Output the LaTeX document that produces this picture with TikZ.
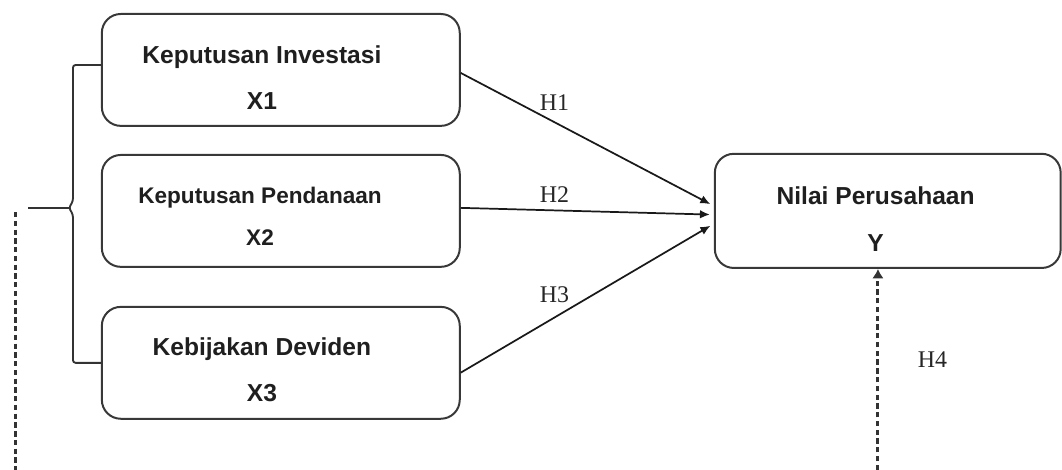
\documentclass[tikz,border=0pt]{standalone}
\usepackage{fontspec}
\setmainfont{Liberation Serif}
\newfontfamily\boxfont{Liberation Sans}
\usepackage{xcolor}
\usepackage{tikz}
\usetikzlibrary{arrows.meta, positioning}

\begin{document}
\begin{tikzpicture}[node distance=3.73cm, on grid, >={Latex[length=7.5pt,width=6.5pt]},
        varbox/.style={draw=black!78, line width=1.5pt, rounded corners=0.5cm,
                       minimum width=9.47cm, minimum height=2.96cm},
        vartext/.style={font=\boxfont\bfseries\fontsize{18.5}{22}\selectfont,
                        text=black!88, align=center},
        hyp/.style={font=\fontsize{18}{20}\selectfont, text=black!85},
        hyparrow/.style={->, shorten >=3pt, line width=1.3pt, draw=black!90},
        dashline/.style={line width=2.2pt, draw=black!80, dash pattern=on 4pt off 2.6pt}]
        \useasboundingbox (0,0) rectangle (28.1,-12.435);

        \node[varbox, label={[vartext, xshift=-0.5cm, yshift=-0.21cm]center:{Keputusan Investasi\\[12.5pt]X1}}] (x1) at (7.43,-1.85) {};
        \node[varbox, label={[vartext, font=\boxfont\bfseries\fontsize{17}{20}\selectfont, xshift=-0.55cm, yshift=-0.15cm]center:{Keputusan Pendanaan\\[12pt]X2}}] (x2) [below=of x1] {};
        \node[varbox, label={[vartext, xshift=-0.5cm, yshift=-0.19cm]center:{Kebijakan Deviden\\[12.5pt]X3}}] (x3) [below=4.02 of x2] {};
        \node[varbox, minimum width=9.15cm, minimum height=3.02cm,
              label={[vartext, xshift=-0.32cm, yshift=-0.22cm]center:{Nilai Perusahaan\\[13pt]Y}}] (y) [right=16.06 of x2] {};

        % bracket on the left
        \coordinate (brk) at (1.93,-5.50);
        \coordinate (mod) at (0.74,-5.50);
        \draw[line width=1.4pt, draw=black!80, rounded corners=2pt]
            ([yshift=0.13cm]x1.west) -| ([yshift=5pt]brk) -- ([xshift=-3pt]brk) -- ([yshift=-5pt]brk) |- (x3.west);
        \draw[line width=1.4pt, draw=black!80] ([xshift=-3pt]brk) -- (mod);

        \path
        ([yshift=-0.08cm]x1.east) edge[hyparrow] node[hyp, above=5pt, pos=.37] {H1} ([yshift=0.13cm]y.west)
        ([yshift=0.08cm]x2.east) edge[hyparrow] node[hyp, above=2.3pt, pos=.37] {H2} ([yshift=-0.1cm]y.west)
        ([yshift=-0.26cm]x3.east) edge[hyparrow] node[hyp, above=7.5pt, pos=.37] {H3} ([yshift=-0.34cm]y.west);

        % dashed lines
        \coordinate (dtop) at (0.40,-5.61);
        \coordinate (dbot) at (0.40,-12.435);
        \draw[dashline] (dtop) -- (dbot);

        \coordinate (h4src) at (23.23,-12.435);
        \draw[dashline, ->, >={Latex[length=7pt,width=8.5pt]}]
            (h4src) -- node[hyp, pos=.55, right=0.9cm] {H4} (h4src |- y.south);
    \end{tikzpicture}
\end{document}
